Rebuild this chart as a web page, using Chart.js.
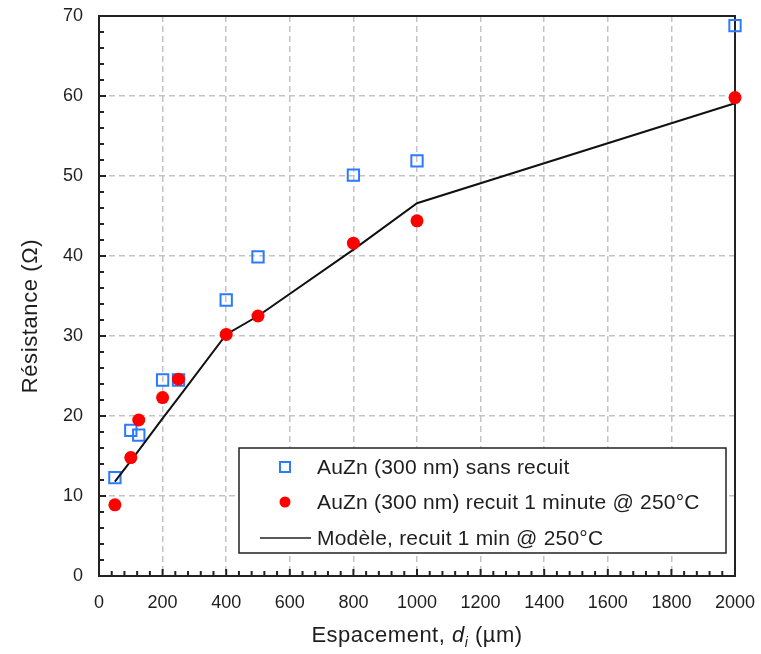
<!DOCTYPE html>
<html lang="fr">
<head>
<meta charset="UTF-8">
<title>Résistance en fonction de l'espacement</title>
<script src="https://cdn.jsdelivr.net/npm/chart.js"></script>
<style>
  body { margin: 0; background: #fff; }
  #wrap { width: 761px; height: 654px; }
</style>
</head>
<body>
<div id="wrap"><canvas id="chart" width="761" height="654"></canvas></div>
<script>
// espacement d_i (µm)
const spacing = [50, 100, 125, 200, 250, 400, 500, 800, 1000, 2000];
// mesures (ohm)
const sansRecuit = [12.3, 18.2, 17.6, 24.5, 24.5, 34.5, 39.9, 50.1, 51.9, 68.8];
const recuit = [8.9, 14.8, 19.5, 22.3, 24.6, 30.2, 32.5, 41.6, 44.4, 59.8];
const modele = [11.8, 14.4, 15.7, 19.7, 22.3, 30.2, 32.5, 40.8, 46.6, 59.1];

const xTicks = [0, 200, 400, 600, 800, 1000, 1200, 1400, 1600, 1800, 2000];
const yTicks = [0, 10, 20, 30, 40, 50, 60, 70];

const legendLabels = [
  'AuZn (300 nm) sans recuit',
  'AuZn (300 nm) recuit 1 minute @ 250°C',
  'Modèle, recuit 1 min @ 250°C'
];

const FONT = '"Liberation Sans", Arial, sans-serif';
const TEXT = '#1e1e1e';
const BLUE = '#2a7bff';
const RED = '#ff0000';
const GRID = '#c4c4c4';

const pts = arr => spacing.map((d, i) => ({x: d, y: arr[i]}));

const decor = {
  id: 'decor',
  beforeDatasetsDraw(chart) {
    const {ctx, chartArea: a, scales: {x, y}} = chart;
    ctx.save();
    ctx.strokeStyle = '#222';
    ctx.lineWidth = 2;
    ctx.beginPath();
    // petites graduations vers l'intérieur
    for (let v = x.min; v <= x.max; v += 40) {
      const px = x.getPixelForValue(v);
      const len = v % 200 === 0 ? 7 : 5;
      ctx.moveTo(px, a.bottom); ctx.lineTo(px, a.bottom - len);
    }
    for (let v = y.min; v <= y.max; v += 2) {
      const py = y.getPixelForValue(v);
      const len = v % 10 === 0 ? 7 : 5;
      ctx.moveTo(a.left, py); ctx.lineTo(a.left + len, py);
    }
    ctx.stroke();
    ctx.strokeRect(a.left, a.top, a.right - a.left, a.bottom - a.top);
    ctx.restore();
  },
  afterDraw(chart) {
    const {ctx, chartArea: a} = chart;
    ctx.save();

    // légende
    const lx = a.left + 140, ly = a.top + 432, lw = 487, lh = 105;
    ctx.fillStyle = '#fff';
    ctx.fillRect(lx, ly, lw, lh);
    ctx.strokeStyle = '#222';
    ctx.lineWidth = 1.5;
    ctx.strokeRect(lx, ly, lw, lh);
    const rows = [ly + 19, ly + 54, ly + 90];
    const mx = lx + 46;
    ctx.strokeStyle = BLUE; ctx.lineWidth = 2;
    ctx.strokeRect(mx - 5, rows[0] - 5, 10, 10);
    ctx.fillStyle = RED;
    ctx.beginPath(); ctx.arc(mx, rows[1], 5.5, 0, Math.PI * 2); ctx.fill();
    ctx.strokeStyle = '#222'; ctx.lineWidth = 1.5;
    ctx.beginPath(); ctx.moveTo(lx + 21, rows[2]); ctx.lineTo(lx + 72, rows[2]); ctx.stroke();
    ctx.fillStyle = TEXT;
    ctx.font = '21px ' + FONT;
    ctx.textBaseline = 'middle';
    ctx.textAlign = 'left';
    ctx.letterSpacing = '0.2px';
    legendLabels.forEach((t, i) => ctx.fillText(t, lx + 78, rows[i] + 1));

    // titre de l'axe x : Espacement, d_i (µm)
    const parts = [
      {t: 'Espacement, ', f: '22px ' + FONT, dy: 0},
      {t: 'd', f: 'italic 22px ' + FONT, dy: 0},
      {t: 'i', f: 'italic 14px ' + FONT, dy: 5},
      {t: ' (µm)', f: '22px ' + FONT, dy: 0}
    ];
    ctx.letterSpacing = '0.5px';
    let total = 0;
    parts.forEach(p => { ctx.font = p.f; p.w = ctx.measureText(p.t).width; total += p.w; });
    let cx = (a.left + a.right) / 2 - total / 2;
    ctx.textBaseline = 'alphabetic';
    parts.forEach(p => { ctx.font = p.f; ctx.fillText(p.t, cx, 642 + p.dy); cx += p.w; });

    // titre de l'axe y
    ctx.translate(37, 316);
    ctx.rotate(-Math.PI / 2);
    ctx.font = '22px ' + FONT;
    ctx.textAlign = 'center';
    ctx.letterSpacing = '0.6px';
    ctx.fillText('Résistance (Ω)', 0, 0);
    ctx.restore();
  }
};

new Chart(document.getElementById('chart'), {
  type: 'scatter',
  data: {
    datasets: [
      {
        label: legendLabels[1],
        data: pts(recuit),
        pointStyle: 'circle',
        pointRadius: 6.5,
        pointHoverRadius: 6.5,
        backgroundColor: RED,
        borderWidth: 0,
        clip: false,
        order: 1
      },
      {
        label: legendLabels[2],
        data: pts(modele),
        showLine: true,
        pointRadius: 0,
        borderColor: '#111',
        borderWidth: 2,
        tension: 0,
        clip: false,
        order: 2
      },
      {
        label: legendLabels[0],
        data: pts(sansRecuit),
        pointStyle: 'rect',
        pointRadius: 8,
        pointHoverRadius: 8,
        backgroundColor: 'rgba(0,0,0,0)',
        borderColor: BLUE,
        borderWidth: 2,
        clip: false,
        order: 3
      }
    ]
  },
  options: {
    responsive: false,
    animation: false,
    layout: { padding: { top: 16, right: 26, left: 0, bottom: 0 } },
    plugins: { legend: { display: false }, tooltip: { enabled: false } },
    scales: {
      x: {
        type: 'linear',
        min: 0, max: 2000,
        afterBuildTicks: s => { s.ticks = xTicks.map(v => ({value: v})); },
        afterFit: s => {
          s.height = 78;
          s.paddingLeft = 0; s.paddingRight = 0; s.paddingTop = 0; s.paddingBottom = 0;
        },
        border: { display: false, dash: [6, 4] },
        grid: {
          drawTicks: false,
          lineWidth: 1.5,
          color: c => (c.tick && (c.tick.value === 0 || c.tick.value === 2000)) ? 'rgba(0,0,0,0)' : GRID
        },
        ticks: {
          color: TEXT, font: { family: FONT, size: 18 }, padding: 16, maxRotation: 0, autoSkip: false,
          callback: v => String(v)
        }
      },
      y: {
        type: 'linear',
        min: 0, max: 70,
        afterBuildTicks: s => { s.ticks = yTicks.map(v => ({value: v})); },
        afterFit: s => {
          s.width = 99;
          s.paddingLeft = 0; s.paddingRight = 0; s.paddingTop = 0; s.paddingBottom = 0;
        },
        border: { display: false, dash: [6, 4] },
        grid: {
          drawTicks: false,
          lineWidth: 1.5,
          color: c => (c.tick && (c.tick.value === 0 || c.tick.value === 70)) ? 'rgba(0,0,0,0)' : GRID
        },
        ticks: { color: TEXT, font: { family: FONT, size: 18 }, padding: 16, callback: v => String(v) }
      }
    }
  },
  plugins: [decor]
});
</script>
</body>
</html>
